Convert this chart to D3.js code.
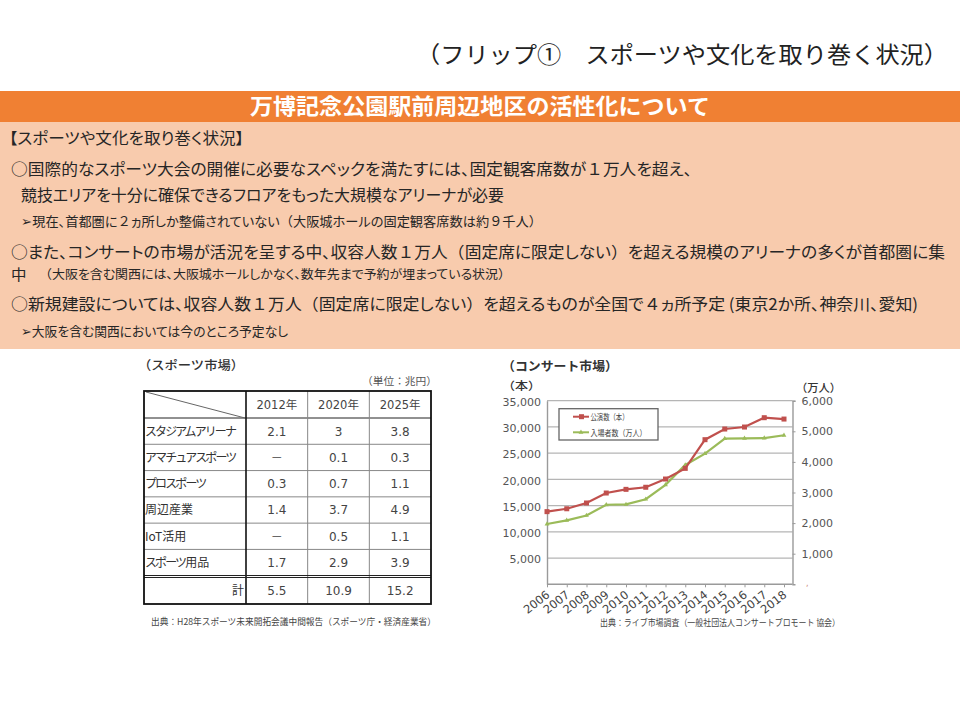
<!DOCTYPE html>
<html lang="ja"><head><meta charset="utf-8">
<script src="https://cdn.jsdelivr.net/npm/d3@7"></script>
<style>html,body{margin:0;padding:0;background:#fff}svg{display:block}
.palt{font-feature-settings:"palt" 1}.full{font-feature-settings:"palt" 0}</style>
</head><body><svg id="c" width="960" height="720"></svg>
<script>
const years=[2006,2007,2008,2009,2010,2011,2012,2013,2014,2015,2016,2017,2018];
const performances=[13850,14400,15500,17400,18100,18500,20070,22100,27570,29600,29980,31760,31500];
const attendance=[1970,2090,2250,2600,2610,2780,3250,3900,4270,4760,4770,4780,4870];
const leftTicks=[5000,10000,15000,20000,25000,30000,35000];
const rightTicks=[1000,2000,3000,4000,5000,6000];
const tableCols=["2012年","2020年","2025年"];
const tableRows=["スタジアムアリーナ","アマチュアスポーツ","プロスポーツ","周辺産業","IoT活用","スポーツ用品"];
const row0=["2.1","3","3.8"],row1=["－","0.1","0.3"],row2=["0.3","0.7","1.1"],row3=["1.4","3.7","4.9"],row4=["－","0.5","1.1"],row5=["1.7","2.9","3.9"];
const totals=["5.5","10.9","15.2"];
const tableValues=[row0,row1,row2,row3,row4,row5];

const svg=d3.select("#c");
const JP='"Noto Sans CJK JP","Noto Sans",sans-serif';
const LAT='"DejaVu Sans",sans-serif';
function t(s,x,y,size,w,opt={}){
  const e=svg.append("text").attr("x",x).attr("y",y)
   .attr("font-family",opt.font||JP).attr("font-size",size)
   .attr("fill",opt.fill||"#262626").attr("font-weight",opt.weight||400)
   .attr("text-anchor",opt.anchor||"start");
  if(opt.palt){
    e.attr("class","palt");
    s.split(/([１２４９（）　]+)/).filter(p=>p).forEach(p=>{
      const sp=e.append("tspan").text(p);
      if(/^[１２４９（）　]+$/.test(p)) sp.attr("class","full");
    });
  } else if(opt.kana){
    s.split(/([ァ-ヶー]+)/).filter(p=>p).forEach(p=>{
      const sp=e.append("tspan").text(p);
      if(/^[ァ-ヶー]+$/.test(p)) sp.attr("letter-spacing",opt.kana);
    });
  } else e.text(s);
  if(w){e.attr("textLength",w).attr("lengthAdjust","spacingAndGlyphs");}
  return e;
}
// slide header
svg.append("rect").attr("x",0).attr("y",91).attr("width",960).attr("height",31).attr("fill","#F08033");
svg.append("rect").attr("x",0).attr("y",122).attr("width",960).attr("height",227).attr("fill","#F8CBAD");
t("（フリップ①　スポーツや文化を取り巻く状況）",416,63,23,532,{fill:"#222"});
t("万博記念公園駅前周辺地区の活性化について",250,114,22,460,{fill:"#fff",weight:700});
// body text
const P={palt:true};
t("【スポーツや文化を取り巻く状況】",9,144,15.5,235,P);
t("○国際的なスポーツ大会の開催に必要なスペックを満たすには、固定観客席数が１万人を超え、",11,175,16,681,P);
t("競技エリアを十分に確保できるフロアをもった大規模なアリーナが必要",21,201,16,483,P);
t("➢現在、首都圏に２ヵ所しか整備されていない（大阪城ホールの固定観客席数は約９千人）",21,226,13,521,P);
t("○また、コンサートの市場が活況を呈する中、収容人数１万人（固定席に限定しない）を超える規模のアリーナの多くが首都圏に集",11,257.5,16,934,P);
t("中",11,280,14.5,15.5);
t("（大阪を含む関西には、大阪城ホールしかなく、数年先まで予約が埋まっている状況）",39,279,12.5,472,P);
t("○新規建設については、収容人数１万人（固定席に限定しない）を超えるものが全国で４ヵ所予定 (東京2か所、神奈川、愛知)",11,310,16,907,P);
t("➢大阪を含む関西においては今のところ予定なし",21,336,13,267,P);

// table
t("（スポーツ市場）",138,370,12.5,106,{weight:500,fill:"#333"});
t("（単位：兆円）",362,385,10.5,75,{fill:"#555"});
const xCol=d3.scaleBand().domain(tableCols).range([246,431]);
const yRow=d3.scaleBand().domain(tableRows).range([418,575.7]);
const g=svg.append("g");
const L=144,R=431,T=391,B=604;
yRow.domain().forEach(r=>{g.append("line").attr("x1",L).attr("x2",R).attr("y1",yRow(r)).attr("y2",yRow(r)).attr("stroke",r===tableRows[0]?"#222":"#888").attr("stroke-width",1);});
tableCols.forEach(c=>{g.append("line").attr("x1",xCol(c)).attr("x2",xCol(c)).attr("y1",T).attr("y2",B).attr("stroke",c===tableCols[0]?"#111":"#888").attr("stroke-width",c===tableCols[0]?1.6:1);});
g.append("line").attr("x1",L).attr("x2",R).attr("y1",575.5).attr("y2",575.5).attr("stroke","#222").attr("stroke-width",1);
g.append("line").attr("x1",L).attr("x2",R).attr("y1",577.5).attr("y2",577.5).attr("stroke","#222").attr("stroke-width",1);
g.append("line").attr("x1",146).attr("y1",392).attr("x2",245).attr("y2",418).attr("stroke","#666");
g.append("rect").attr("x",L).attr("y",T).attr("width",R-L).attr("height",B-T).attr("fill","none").attr("stroke","#111").attr("stroke-width",1.8);
tableCols.forEach(c=>t(c,xCol(c)+xCol.bandwidth()/2,409,11.5,null,{anchor:"middle",font:'"DejaVu Sans","Noto Sans CJK JP"',fill:"#444"}));
tableRows.forEach((r,i)=>{
  const y=yRow(r)+yRow.bandwidth()/2+4.5;
  t(r,145,y,12,null,{fill:"#333",kana:-1.9});
  tableValues[i].forEach((v,j)=>t(v,xCol(tableCols[j])+xCol.bandwidth()/2,y,12,null,{anchor:"middle",font:v==="－"?JP:LAT,fill:"#444"}));
});
t("計",244,595,12,null,{anchor:"end",fill:"#333"});
totals.forEach((v,j)=>t(v,xCol(tableCols[j])+xCol.bandwidth()/2,595,12,null,{anchor:"middle",font:LAT,fill:"#444"}));
t("出典：H28年スポーツ未来開拓会議中間報告（スポーツ庁・経済産業省）",151,625,9,285,{fill:"#444"});

// line chart
t("（コンサート市場）",502,371,12.5,116,{weight:700,fill:"#333"});
t("（本）",502,390,11,39,{weight:500,fill:"#333"});
t("（万人）",796,392,11,45,{weight:500,fill:"#333"});
const x=d3.scaleLinear().domain([2006,2018]).range([547,784]);
const yL=d3.scaleLinear().domain([0,35000]).range([584.3,400.7]);
const yR=d3.scaleLinear().domain([0,6000]).range([584.3,400.7]);
const ch=svg.append("g");
const XR=792.5;
ch.selectAll(".grid").data(leftTicks).join("line").attr("x1",547).attr("x2",XR)
  .attr("y1",d=>yL(d)).attr("y2",d=>yL(d)).attr("stroke","#B5B5B5").attr("stroke-width",1.2);
const gray="#9a9a9a";
const ax=ch.append("g").attr("transform","translate(0,584.3)").call(d3.axisBottom(x).tickValues(years).tickFormat(d3.format("d")).tickSize(3));
ax.select(".domain").attr("d",`M547,0H${XR}`).attr("stroke",gray).attr("stroke-width",1.4);
ax.selectAll(".tick line").attr("stroke",gray);
ax.selectAll("text").attr("font-family",LAT).attr("font-size",11.5).attr("fill","#444")
  .attr("text-anchor","end").attr("x",0).attr("y",0).attr("dy",0).attr("transform","translate(3,12) rotate(-38)");
const al=ch.append("g").attr("transform","translate(547,0)").call(d3.axisLeft(yL).tickValues(leftTicks).tickFormat(d3.format(",")).tickSize(0).tickPadding(6));
al.select(".domain").attr("stroke",gray).attr("stroke-width",1.4);
al.selectAll("text").attr("font-family",LAT).attr("font-size",11).attr("fill","#555").attr("dy","0.42em");
const ar=ch.append("g").attr("transform",`translate(${XR},0)`).call(d3.axisRight(yR).tickValues(rightTicks).tickFormat(d3.format(",")).tickSize(3).tickPadding(6));
ar.select(".domain").attr("stroke",gray).attr("stroke-width",1.4);
ar.selectAll(".tick line").attr("stroke",gray);
ar.selectAll("text").attr("font-family",LAT).attr("font-size",11).attr("fill","#555");
t(",",806,586,8,null,{fill:"#c87",font:LAT});

const lr=d3.line().x((d,i)=>x(years[i])).y(d=>yL(d));
const lg=d3.line().x((d,i)=>x(years[i])).y(d=>yR(d));
ch.append("path").attr("d",lg(attendance)).attr("fill","none").attr("stroke","#9BBB59").attr("stroke-width",2.2);
ch.selectAll(".pg").data(attendance).join("path").attr("d",d3.symbol(d3.symbolTriangle,10)())
  .attr("transform",(d,i)=>`translate(${x(years[i])},${yR(d)})`).attr("fill","#9BBB59");
ch.append("path").attr("d",lr(performances)).attr("fill","none").attr("stroke","#C0504D").attr("stroke-width",2.2);
ch.selectAll(".pr").data(performances).join("rect").attr("x",(d,i)=>x(years[i])-2.5).attr("y",d=>yL(d)-2.5)
  .attr("width",5).attr("height",5).attr("fill","#C0504D");
// legend
ch.append("rect").attr("x",559).attr("y",408.7).attr("width",99).attr("height",31.3).attr("fill","#fff").attr("stroke","#666").attr("stroke-width",1.3);
ch.append("line").attr("x1",573).attr("x2",589).attr("y1",416.7).attr("y2",416.7).attr("stroke","#C0504D").attr("stroke-width",2);
ch.append("rect").attr("x",579).attr("y",414.2).attr("width",5).attr("height",5).attr("fill","#C0504D");
ch.append("line").attr("x1",573).attr("x2",589).attr("y1",432.3).attr("y2",432.3).attr("stroke","#9BBB59").attr("stroke-width",2);
ch.append("path").attr("d",d3.symbol(d3.symbolTriangle,10)()).attr("transform","translate(581,432.3)").attr("fill","#9BBB59");
t("公演数（本）",590.5,420,8.5,38,{fill:"#444"});
t("入場者数（万人）",590.5,436,8.5,56,{fill:"#444"});
t("出典：ライブ市場調査（一般社団法人コンサートプロモート 協会）",600,626,9,240,{fill:"#444"});
</script></body></html>
